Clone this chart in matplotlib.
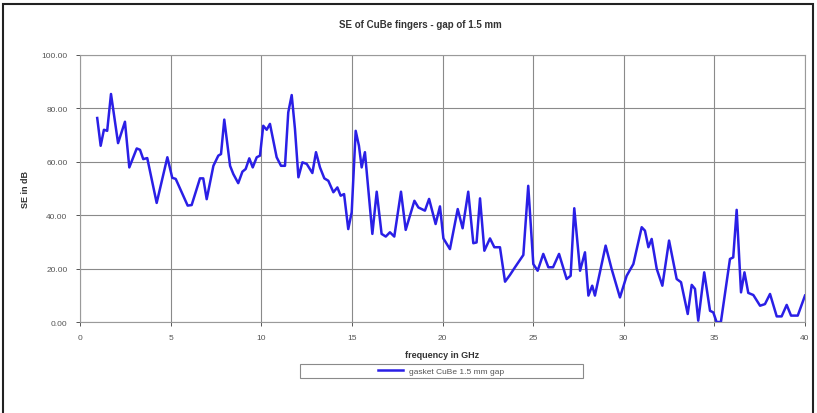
import matplotlib
matplotlib.use("Agg")
import matplotlib.pyplot as plt
from matplotlib.patches import Rectangle

freq_ghz = [0.95, 1.14, 1.32, 1.5, 1.71, 2.1, 2.48, 2.72, 3.13, 3.31, 3.49, 3.71, 4.23, 4.82,
            5.09, 5.28, 5.94, 6.16, 6.62, 6.8, 6.99, 7.36, 7.63, 7.78, 7.96, 8.28, 8.46, 8.73,
            8.96, 9.14, 9.34, 9.53, 9.75, 9.93, 10.11, 10.3, 10.48, 10.85, 11.09, 11.31, 11.49,
            11.68, 11.86, 12.05, 12.27, 12.51, 12.82, 13.02, 13.24, 13.48, 13.7, 13.98, 14.2,
            14.38, 14.57, 14.8, 14.99, 15.21, 15.39, 15.54, 15.72, 16.13, 16.37, 16.64, 16.87,
            17.1, 17.34, 17.71, 17.97, 18.45, 18.67, 19.03, 19.26, 19.62, 19.86, 20.05, 20.41,
            20.84, 21.11, 21.42, 21.7, 21.88, 22.07, 22.31, 22.62, 22.86, 23.17, 23.45, 23.72,
            24.0, 24.46, 24.73, 25.01, 25.25, 25.56, 25.84, 26.1, 26.43, 26.85, 27.07, 27.27,
            27.59, 27.86, 28.05, 28.26, 28.41, 29.0, 29.33, 29.79, 30.16, 30.53, 30.99, 31.17,
            31.36, 31.54, 31.82, 32.13, 32.5, 32.92, 33.16, 33.53, 33.75, 33.93, 34.11, 34.44,
            34.76, 34.94, 35.12, 35.36, 35.86, 36.04, 36.23, 36.47, 36.66, 36.87, 37.15, 37.52,
            37.79, 38.07, 38.44, 38.71, 38.99, 39.23, 39.6, 40.0]
se_db = [76.4, 66.0, 72.0, 71.6, 85.4, 67.0, 75.0, 57.9, 65.0, 64.5, 61.0, 61.4, 44.6, 61.7,
         54.0, 53.6, 43.6, 43.8, 53.8, 53.8, 46.0, 58.5, 62.3, 62.9, 75.8, 58.5, 55.4, 52.0,
         56.3, 57.3, 61.3, 57.9, 61.7, 62.3, 73.5, 72.0, 74.2, 61.7, 58.5, 58.5, 78.5,
         85.0, 72.3, 54.2, 59.8, 59.2, 55.8, 63.6, 57.9, 53.8, 52.9, 48.6, 50.4,
         47.3, 47.9, 34.8, 41.1, 71.6, 66.0, 57.9, 63.6, 33.0, 48.8, 33.0, 32.0,
         33.6, 32.0, 48.8, 34.5, 45.4, 42.9, 41.7, 46.1, 36.7, 43.3, 31.3, 27.3,
         42.3, 35.1, 48.8, 29.5, 29.8, 46.3, 26.7, 31.3, 28.0, 28.0, 15.1, 17.6,
         20.5, 25.1, 51.0, 21.7, 19.2, 25.5, 20.5, 20.5, 25.5, 16.1, 17.3, 42.6,
         19.2, 26.1, 9.9, 13.6, 9.9, 28.6, 19.9, 9.2, 17.3, 21.7, 35.5, 34.2,
         28.0, 31.1, 19.9, 13.6, 30.5, 16.1, 14.9, 3.0, 13.9, 12.4, 0.5, 18.6,
         4.2, 3.6, 0.0, 0.0, 23.6, 24.2, 42.0, 11.1, 18.6, 10.9, 10.1, 6.1,
         6.7, 10.5, 2.1, 2.1, 6.4, 2.4, 2.4, 9.9]

x_ticks = [0, 5, 10, 15, 20, 25, 30, 35, 40]
y_ticks = [0, 20, 40, 60, 80, 100]
title = "SE of CuBe fingers - gap of 1.5 mm"
x_label = "frequency in GHz"
y_label = "SE in dB"
series_label = "gasket CuBe 1.5 mm gap"

plt.rcParams['font.family'] = ['Liberation Sans', 'DejaVu Sans']

fig = plt.figure(figsize=(8.17, 4.14), dpi=100)
W, H = 817, 414
ax = fig.add_axes([80 / W, 1 - 323 / H, (805 - 80) / W, (323 - 56) / H])

ax.plot(freq_ghz, se_db, color="#2a1fe6", lw=1.8, label=series_label, clip_on=True)
ax.set_xlim(0, 40)
ax.set_ylim(0, 100)
ax.set_xticks(x_ticks)
ax.set_yticks(y_ticks)
ax.set_xticklabels([str(t) for t in x_ticks])
ax.set_yticklabels([f"{t:.2f}" for t in y_ticks])
ax.grid(True, color="#8a8a8a", lw=0.8)
ax.set_axisbelow(True)
for s in ax.spines.values():
    s.set_color("#9a9a9a")
    s.set_linewidth(0.8)
ax.tick_params(axis="both", labelsize=6, colors="#555555", length=3, width=0.7,
               direction="out", pad=6)

fig.text(420 / W, 1 - 25 / H, title, ha="center", va="center", fontsize=7,
         fontweight="bold", color="#333333")
ax.set_xlabel(x_label, fontsize=6.5, fontweight="bold", color="#333333", labelpad=6)
ax.set_ylabel(y_label, fontsize=6.5, fontweight="bold", color="#333333", labelpad=8)

# legend box (Excel-style wide frame) with centered entry
fig.patches.append(Rectangle((300 / W, 1 - 379 / H), 283 / W, 14 / H,
                             transform=fig.transFigure, fill=True, facecolor="white",
                             edgecolor="#8a8a8a", lw=0.8, zorder=1))
leg = fig.legend(loc="center", bbox_to_anchor=(441 / W, 1 - 372 / H), fontsize=6,
                 frameon=False, borderpad=0.2, handlelength=3,
                 labelcolor="#555555")
leg.set_zorder(5)

fig.patches.append(Rectangle((3 / W, -0.01), (813 - 3) / W, 1 - 5 / H + 0.01,
                             transform=fig.transFigure, fill=False,
                             edgecolor="#222222", lw=1.5))

fig.savefig("out.png", dpi=100)
